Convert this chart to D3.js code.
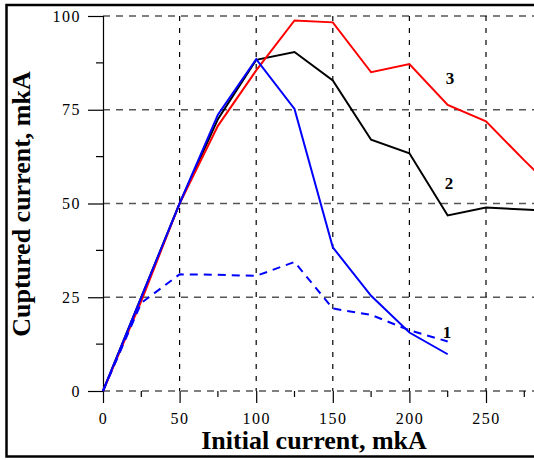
<!DOCTYPE html>
<html>
<head>
<script src="https://d3js.org/d3.v7.min.js"></script>
<style>
  body { margin: 0; background: #fff; }
  text { font-family: "Liberation Serif", "Times New Roman", serif; }
</style>
</head>
<body>
<script>
// x values (initial current, mkA)
var xValues = [0, 25, 50, 75, 100, 125, 150, 175, 200, 225, 250, 275, 300];

// series
var curve1Solid = [0, 25, 50, 73.7, 88.5, 75.2, 38.3, 25.4, 15.6, 9.8];
var curve1Dashed = [0, 23.5, 31.1, 31, 30.7, 34.4, 22, 20.3, 16.2, 13.2];
var curve2 = [0, 25, 50, 72.5, 88.3, 90.4, 82.8, 67, 63.4, 46.8, 48.9, 48.4, 48];
var curve3 = [0, 24, 50, 70.7, 85.5, 98.8, 98.3, 85, 87.2, 76.3, 71.9, 61.5, 51.5];

var xTicks = [0, 50, 100, 150, 200, 250];
var xMinor = [25, 75, 125, 175, 225, 275];
var yTicks = [0, 25, 50, 75, 100];
var yMinor = [12.5, 37.5, 62.5, 87.5];

var width = 534, height = 460;
var serif = "'Liberation Serif', 'Times New Roman', serif";

var svg = d3.select("body").append("svg")
    .attr("width", width)
    .attr("height", height)
    .attr("font-family", serif);

// outer frame
svg.append("rect")
    .attr("x", 6.5).attr("y", 5)
    .attr("width", 540).attr("height", 451.5)
    .attr("fill", "none")
    .attr("stroke", "#000")
    .attr("stroke-width", 2.5);

var x = d3.scaleLinear().domain([0, 250]).range([103, 486]);
var y = d3.scaleLinear().domain([0, 100]).range([391, 16]);

// horizontal grid (grey dashed)
svg.selectAll(".hgrid").data(yTicks).enter().append("line")
    .attr("x1", x(0)).attr("x2", width)
    .attr("y1", function (d) { return y(d); })
    .attr("y2", function (d) { return y(d); })
    .attr("stroke", "#555")
    .attr("stroke-width", 1.3)
    .attr("stroke-dasharray", "7,6");

// vertical grid (black dashed)
svg.selectAll(".vgrid").data(xTicks.slice(1)).enter().append("line")
    .attr("x1", function (d) { return x(d); })
    .attr("x2", function (d) { return x(d); })
    .attr("y1", y(100)).attr("y2", y(0))
    .attr("stroke", "#000")
    .attr("stroke-width", 1.2)
    .attr("stroke-dasharray", "5,7");

// y axis
var yAxis = d3.axisLeft(y).tickValues(yTicks).tickSize(15).tickPadding(7)
    .tickFormat(d3.format("d"));
var gy = svg.append("g").attr("transform", "translate(" + x(0) + ",0)").call(yAxis)
    .attr("font-family", serif).attr("font-size", 16);
gy.select(".domain").attr("stroke-width", 1.2);
gy.selectAll(".tick line").attr("stroke-width", 1.2);
gy.selectAll("text")
    .style("font-family", serif)
    .style("font-size", "16px")
    .style("letter-spacing", "1.5px");
gy.selectAll(".minor").data(yMinor).enter().append("line")
    .attr("x1", -7).attr("x2", 0)
    .attr("y1", function (d) { return y(d); })
    .attr("y2", function (d) { return y(d); })
    .attr("stroke", "#000").attr("stroke-width", 1.2);

// x axis
var xAxis = d3.axisBottom(x).tickValues(xTicks).tickSize(12).tickPadding(10)
    .tickFormat(d3.format("d"));
var gx = svg.append("g").attr("transform", "translate(0," + y(0) + ")").call(xAxis)
    .attr("font-family", serif).attr("font-size", 16);
gx.select(".domain").remove();
gx.selectAll(".tick line").attr("stroke-width", 1.2);
gx.selectAll("text")
    .style("font-family", serif)
    .style("font-size", "16px")
    .style("letter-spacing", "1.5px");
gx.selectAll(".minor").data(xMinor).enter().append("line")
    .attr("x1", function (d) { return x(d); })
    .attr("x2", function (d) { return x(d); })
    .attr("y1", 0).attr("y2", 6)
    .attr("stroke", "#000").attr("stroke-width", 1.2);

// curves
var line = d3.line()
    .x(function (d) { return x(d[0]); })
    .y(function (d) { return y(d[1]); });

function pairs(vals) {
    return vals.map(function (v, i) { return [xValues[i], v]; });
}

var series = [
    { vals: curve2, color: "#000", dash: null },
    { vals: curve3, color: "#ff0000", dash: null },
    { vals: curve1Dashed, color: "#0000ff", dash: "8,6" },
    { vals: curve1Solid, color: "#0000ff", dash: null }
];

series.forEach(function (s) {
    svg.append("path")
        .datum(pairs(s.vals))
        .attr("d", line)
        .attr("fill", "none")
        .attr("stroke", s.color)
        .attr("stroke-width", 2)
        .attr("stroke-dasharray", s.dash);
});

// curve numbers
var curveLabels = [
    { t: "3", x: 450, y: 84 },
    { t: "2", x: 449, y: 189 },
    { t: "1", x: 447, y: 338 }
];
svg.selectAll(".clabel").data(curveLabels).enter().append("text")
    .attr("x", function (d) { return d.x; })
    .attr("y", function (d) { return d.y; })
    .attr("text-anchor", "middle")
    .style("font-weight", "bold")
    .style("font-size", "17px")
    .text(function (d) { return d.t; });

// axis titles
svg.append("text")
    .attr("x", 314).attr("y", 449)
    .attr("text-anchor", "middle")
    .style("font-weight", "bold")
    .style("font-size", "26px")
    .text("Initial current, mkA");

svg.append("text")
    .attr("transform", "translate(30,204) rotate(-90)")
    .attr("text-anchor", "middle")
    .style("font-weight", "bold")
    .style("font-size", "26px")
    .text("Cuptured current, mkA");
</script>
</body>
</html>
